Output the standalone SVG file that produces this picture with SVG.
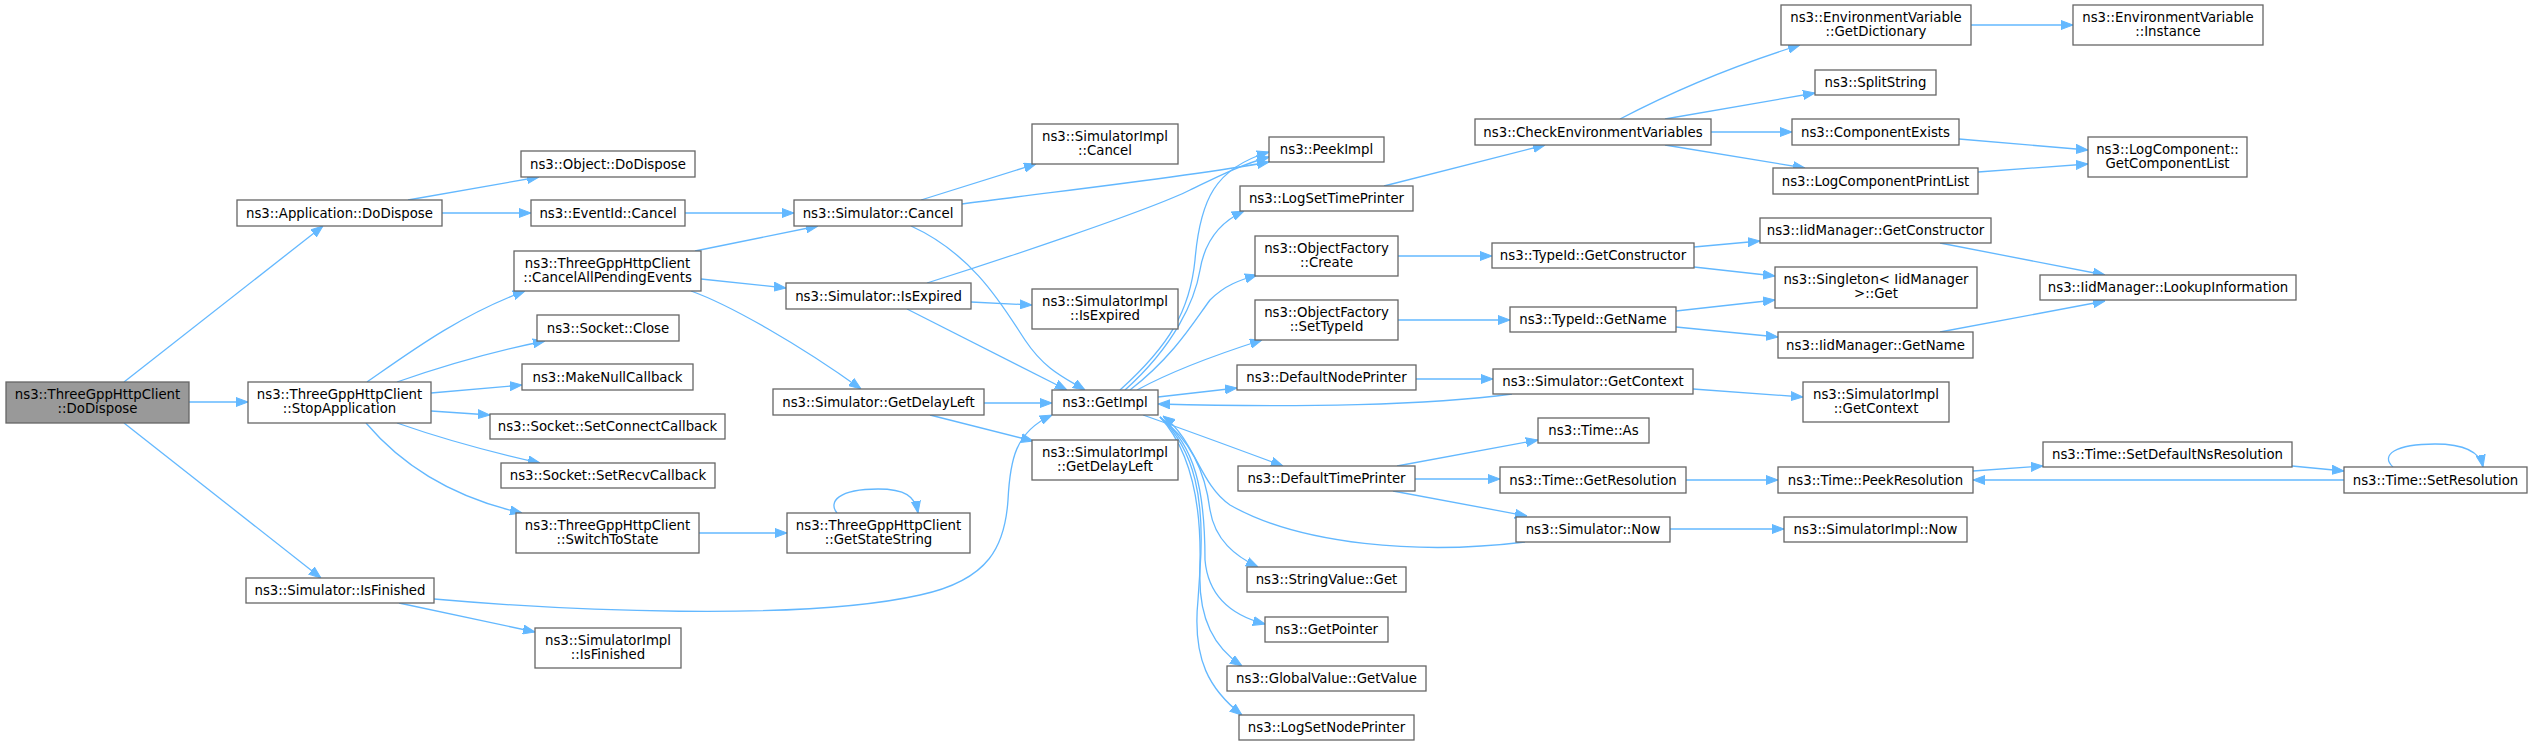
<svg xmlns="http://www.w3.org/2000/svg" width="2533" height="745" viewBox="0 0 2533 745">
<style>
.node rect{fill:#ffffff;stroke:#666666;stroke-width:1.3}
.node.root rect{fill:#999999}
.node text{font-family:"DejaVu Sans","Liberation Sans",sans-serif;font-size:13.3px;fill:#000000;text-anchor:middle}
#edges path{fill:none;stroke:#63b8ff;stroke-width:1.3;marker-end:url(#arr)}
</style>
<defs>
<marker id="arr" markerWidth="12" markerHeight="10" refX="12" refY="5" orient="auto" markerUnits="userSpaceOnUse" viewBox="0 0 12 10">
<path d="M0,0.5 L12,5 L0,9.5 z" fill="#63b8ff" stroke="#63b8ff" stroke-width="1"/>
</marker>
</defs>
<rect width="2533" height="745" fill="#ffffff"/>
<g id="edges">
<path d="M124,382 L323,226"/>
<path d="M189,402 L248,402"/>
<path d="M124,423 L321,578"/>
<path d="M408,200 L539,177"/>
<path d="M442,213 L531,213"/>
<path d="M685,213 L794,213"/>
<path d="M367,382 C410,352 460,315 525,291"/>
<path d="M397,382 C440,367 490,352 545,341"/>
<path d="M431,393 L522,385"/>
<path d="M431,411 L490,415"/>
<path d="M397,423 C440,438 490,452 540,463"/>
<path d="M366,423 C400,463 450,497 522,513"/>
<path d="M695,251 L818,226"/>
<path d="M701,279 L786,288"/>
<path d="M691,291 C730,305 800,345 861,389"/>
<path d="M921,200 L1036,164"/>
<path d="M962,204 C1050,192 1180,178 1269,162"/>
<path d="M911,226 C975,255 1005,310 1025,340 S1065,378 1085,390"/>
<path d="M927,283 C1000,260 1150,210 1190,190 C1215,178 1240,165 1269,157"/>
<path d="M971,302 L1032,305"/>
<path d="M907,309 L1067,390"/>
<path d="M984,403 L1052,403"/>
<path d="M930,415 L1033,441"/>
<path d="M699,533 L787,533"/>
<path d="M837,513 C828,502 838,489 878,489 C905,489 915,496 918,513"/>
<path d="M434,599 C560,610 800,622 920,595 C990,580 1005,545 1008,500 C1010,460 1015,432 1052,415"/>
<path d="M399,603 L535,632"/>
<path d="M1120,390 C1170,345 1190,310 1195,260 C1200,200 1215,168 1269,152"/>
<path d="M1125,390 C1175,345 1195,300 1200,270 C1205,240 1220,222 1244,211"/>
<path d="M1130,390 C1175,355 1195,320 1210,300 C1225,285 1240,280 1257,275"/>
<path d="M1137,390 C1170,372 1215,355 1262,340"/>
<path d="M1158,397 L1237,388"/>
<path d="M1143,415 C1180,428 1240,450 1283,466"/>
<path d="M1160,417 C1190,440 1205,470 1210,510 C1215,540 1235,556 1258,567"/>
<path d="M1160,417 C1195,445 1205,490 1205,560 C1208,595 1230,615 1265,624"/>
<path d="M1160,417 C1195,450 1205,500 1200,570 C1198,620 1215,648 1242,666"/>
<path d="M1160,417 C1195,455 1205,520 1198,600 C1192,660 1210,690 1242,715"/>
<path d="M1512,394 C1430,405 1300,408 1158,404"/>
<path d="M1525,542 C1420,555 1300,545 1230,505 C1200,485 1195,440 1163,416"/>
<path d="M1384,186 L1545,145"/>
<path d="M1620,119 C1660,98 1720,70 1800,45"/>
<path d="M1665,119 L1815,93"/>
<path d="M1711,132 L1792,132"/>
<path d="M1665,145 L1805,168"/>
<path d="M1971,25 L2073,25"/>
<path d="M1959,139 L2088,150"/>
<path d="M1978,172 L2088,164"/>
<path d="M1398,256 L1492,256"/>
<path d="M1694,247 L1760,241"/>
<path d="M1694,267 L1775,276"/>
<path d="M1940,243 L2105,275"/>
<path d="M1398,320 L1510,320"/>
<path d="M1676,311 L1775,300"/>
<path d="M1676,327 L1778,337"/>
<path d="M1940,332 L2105,301"/>
<path d="M1416,379 L1493,379"/>
<path d="M1693,389 L1803,397"/>
<path d="M1397,466 L1538,440"/>
<path d="M1415,479 L1500,479"/>
<path d="M1393,491 L1527,516"/>
<path d="M1686,480 L1778,480"/>
<path d="M1670,529 L1784,529"/>
<path d="M1973,471 L2043,466"/>
<path d="M2292,466 L2344,471"/>
<path d="M2344,480 L1973,480"/>
<path d="M2393,467 C2380,455 2395,444 2435,444 C2465,444 2480,452 2483,467"/>
</g>
<g id="n0" class="node root"><rect x="6" y="382" width="183" height="41"/><text x="97.5" y="399">ns3::ThreeGppHttpClient</text><text x="97.5" y="413">::DoDispose</text></g>
<g id="n1" class="node"><rect x="237" y="200" width="205" height="26"/><text x="339.5" y="217.5">ns3::Application::DoDispose</text></g>
<g id="n2" class="node"><rect x="248" y="382" width="183" height="41"/><text x="339.5" y="399">ns3::ThreeGppHttpClient</text><text x="339.5" y="413">::StopApplication</text></g>
<g id="n3" class="node"><rect x="246" y="578" width="188" height="25"/><text x="340" y="595">ns3::Simulator::IsFinished</text></g>
<g id="n4" class="node"><rect x="521" y="151" width="174" height="26"/><text x="608" y="168.5">ns3::Object::DoDispose</text></g>
<g id="n5" class="node"><rect x="531" y="200" width="154" height="26"/><text x="608" y="217.5">ns3::EventId::Cancel</text></g>
<g id="n6" class="node"><rect x="514" y="251" width="187" height="40"/><text x="607.5" y="267.5">ns3::ThreeGppHttpClient</text><text x="607.5" y="281.5">::CancelAllPendingEvents</text></g>
<g id="n7" class="node"><rect x="537" y="315" width="142" height="26"/><text x="608" y="332.5">ns3::Socket::Close</text></g>
<g id="n8" class="node"><rect x="522" y="364" width="171" height="26"/><text x="607.5" y="381.5">ns3::MakeNullCallback</text></g>
<g id="n9" class="node"><rect x="490" y="414" width="235" height="25"/><text x="607.5" y="431">ns3::Socket::SetConnectCallback</text></g>
<g id="n10" class="node"><rect x="501" y="463" width="214" height="25"/><text x="608" y="480">ns3::Socket::SetRecvCallback</text></g>
<g id="n11" class="node"><rect x="516" y="513" width="183" height="40"/><text x="607.5" y="529.5">ns3::ThreeGppHttpClient</text><text x="607.5" y="543.5">::SwitchToState</text></g>
<g id="n12" class="node"><rect x="535" y="628" width="146" height="40"/><text x="608" y="644.5">ns3::SimulatorImpl</text><text x="608" y="658.5">::IsFinished</text></g>
<g id="n13" class="node"><rect x="794" y="200" width="168" height="26"/><text x="878" y="217.5">ns3::Simulator::Cancel</text></g>
<g id="n14" class="node"><rect x="786" y="283" width="185" height="26"/><text x="878.5" y="300.5">ns3::Simulator::IsExpired</text></g>
<g id="n15" class="node"><rect x="773" y="389" width="211" height="26"/><text x="878.5" y="406.5">ns3::Simulator::GetDelayLeft</text></g>
<g id="n16" class="node"><rect x="787" y="513" width="183" height="40"/><text x="878.5" y="529.5">ns3::ThreeGppHttpClient</text><text x="878.5" y="543.5">::GetStateString</text></g>
<g id="n17" class="node"><rect x="1032" y="124" width="146" height="40"/><text x="1105" y="140.5">ns3::SimulatorImpl</text><text x="1105" y="154.5">::Cancel</text></g>
<g id="n18" class="node"><rect x="1032" y="289" width="146" height="40"/><text x="1105" y="305.5">ns3::SimulatorImpl</text><text x="1105" y="319.5">::IsExpired</text></g>
<g id="n19" class="node"><rect x="1052" y="390" width="106" height="25"/><text x="1105" y="407">ns3::GetImpl</text></g>
<g id="n20" class="node"><rect x="1032" y="440" width="146" height="40"/><text x="1105" y="456.5">ns3::SimulatorImpl</text><text x="1105" y="470.5">::GetDelayLeft</text></g>
<g id="n21" class="node"><rect x="1269" y="137" width="115" height="25"/><text x="1326.5" y="154">ns3::PeekImpl</text></g>
<g id="n22" class="node"><rect x="1240" y="186" width="173" height="25"/><text x="1326.5" y="203">ns3::LogSetTimePrinter</text></g>
<g id="n23" class="node"><rect x="1255" y="236" width="143" height="40"/><text x="1326.5" y="252.5">ns3::ObjectFactory</text><text x="1326.5" y="266.5">::Create</text></g>
<g id="n24" class="node"><rect x="1255" y="300" width="143" height="40"/><text x="1326.5" y="316.5">ns3::ObjectFactory</text><text x="1326.5" y="330.5">::SetTypeId</text></g>
<g id="n25" class="node"><rect x="1237" y="365" width="179" height="25"/><text x="1326.5" y="382">ns3::DefaultNodePrinter</text></g>
<g id="n26" class="node"><rect x="1238" y="466" width="177" height="25"/><text x="1326.5" y="483">ns3::DefaultTimePrinter</text></g>
<g id="n27" class="node"><rect x="1247" y="567" width="159" height="25"/><text x="1326.5" y="584">ns3::StringValue::Get</text></g>
<g id="n28" class="node"><rect x="1265" y="617" width="123" height="25"/><text x="1326.5" y="634">ns3::GetPointer</text></g>
<g id="n29" class="node"><rect x="1227" y="666" width="199" height="25"/><text x="1326.5" y="683">ns3::GlobalValue::GetValue</text></g>
<g id="n30" class="node"><rect x="1239" y="715" width="175" height="25"/><text x="1326.5" y="732">ns3::LogSetNodePrinter</text></g>
<g id="n31" class="node"><rect x="1475" y="119" width="236" height="26"/><text x="1593" y="136.5">ns3::CheckEnvironmentVariables</text></g>
<g id="n32" class="node"><rect x="1492" y="243" width="202" height="25"/><text x="1593" y="260">ns3::TypeId::GetConstructor</text></g>
<g id="n33" class="node"><rect x="1510" y="307" width="166" height="25"/><text x="1593" y="324">ns3::TypeId::GetName</text></g>
<g id="n34" class="node"><rect x="1493" y="369" width="200" height="25"/><text x="1593" y="386">ns3::Simulator::GetContext</text></g>
<g id="n35" class="node"><rect x="1538" y="418" width="111" height="25"/><text x="1593.5" y="435">ns3::Time::As</text></g>
<g id="n36" class="node"><rect x="1500" y="467" width="186" height="26"/><text x="1593" y="484.5">ns3::Time::GetResolution</text></g>
<g id="n37" class="node"><rect x="1516" y="517" width="154" height="25"/><text x="1593" y="534">ns3::Simulator::Now</text></g>
<g id="n38" class="node"><rect x="1781" y="5" width="190" height="40"/><text x="1876" y="21.5">ns3::EnvironmentVariable</text><text x="1876" y="35.5">::GetDictionary</text></g>
<g id="n39" class="node"><rect x="1815" y="70" width="121" height="25"/><text x="1875.5" y="87">ns3::SplitString</text></g>
<g id="n40" class="node"><rect x="1792" y="119" width="167" height="26"/><text x="1875.5" y="136.5">ns3::ComponentExists</text></g>
<g id="n41" class="node"><rect x="1773" y="168" width="205" height="26"/><text x="1875.5" y="185.5">ns3::LogComponentPrintList</text></g>
<g id="n42" class="node"><rect x="1760" y="218" width="231" height="25"/><text x="1875.5" y="235">ns3::IidManager::GetConstructor</text></g>
<g id="n43" class="node"><rect x="1775" y="267" width="202" height="41"/><text x="1876" y="284">ns3::Singleton&lt; IidManager</text><text x="1876" y="298">&gt;::Get</text></g>
<g id="n44" class="node"><rect x="1778" y="332" width="195" height="26"/><text x="1875.5" y="349.5">ns3::IidManager::GetName</text></g>
<g id="n45" class="node"><rect x="1803" y="382" width="146" height="40"/><text x="1876" y="398.5">ns3::SimulatorImpl</text><text x="1876" y="412.5">::GetContext</text></g>
<g id="n46" class="node"><rect x="1778" y="467" width="195" height="26"/><text x="1875.5" y="484.5">ns3::Time::PeekResolution</text></g>
<g id="n47" class="node"><rect x="1784" y="517" width="183" height="25"/><text x="1875.5" y="534">ns3::SimulatorImpl::Now</text></g>
<g id="n48" class="node"><rect x="2073" y="5" width="190" height="40"/><text x="2168" y="21.5">ns3::EnvironmentVariable</text><text x="2168" y="35.5">::Instance</text></g>
<g id="n49" class="node"><rect x="2088" y="137" width="159" height="40"/><text x="2167.5" y="153.5">ns3::LogComponent::</text><text x="2167.5" y="167.5">GetComponentList</text></g>
<g id="n50" class="node"><rect x="2040" y="275" width="256" height="25"/><text x="2168" y="292">ns3::IidManager::LookupInformation</text></g>
<g id="n51" class="node"><rect x="2043" y="442" width="249" height="25"/><text x="2167.5" y="459">ns3::Time::SetDefaultNsResolution</text></g>
<g id="n52" class="node"><rect x="2344" y="467" width="183" height="26"/><text x="2435.5" y="484.5">ns3::Time::SetResolution</text></g>
</svg>
